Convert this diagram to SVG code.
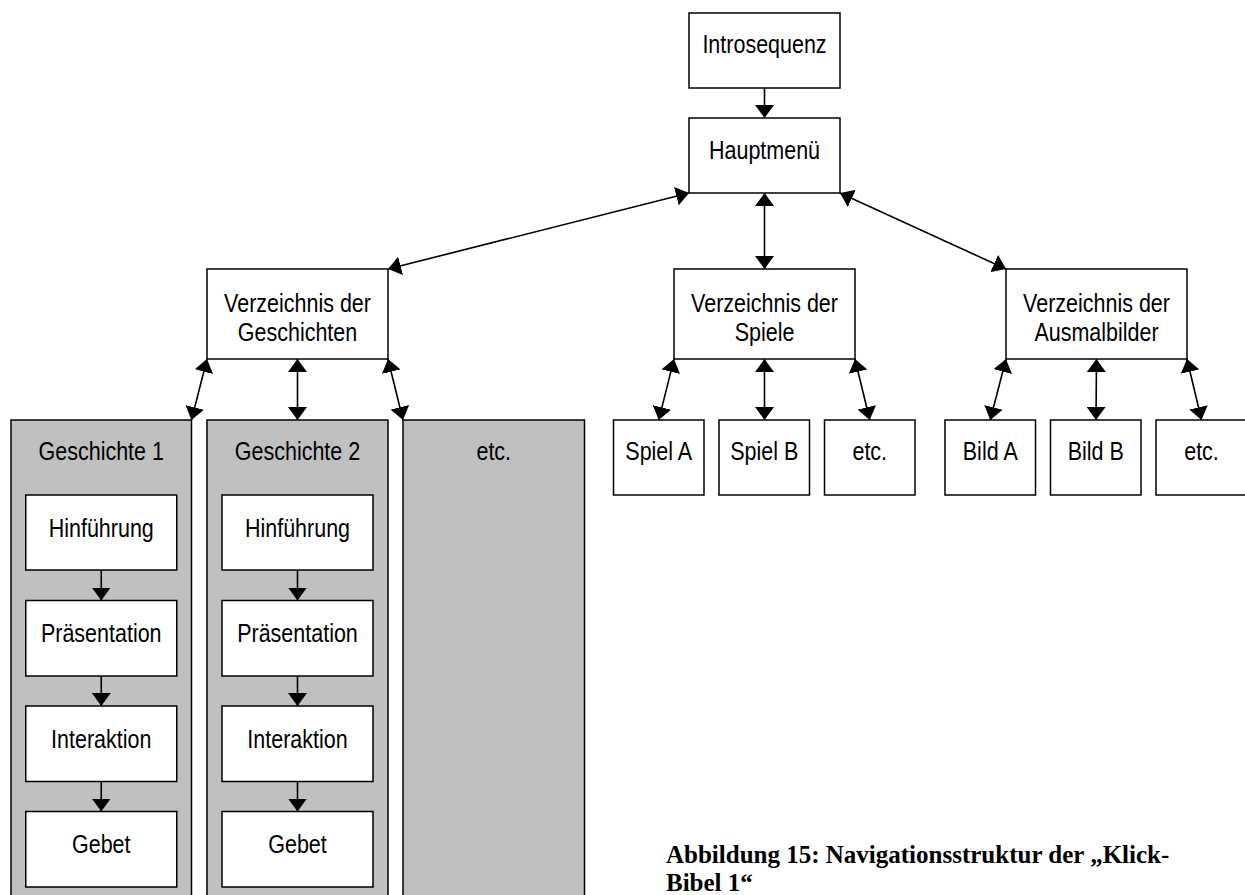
<svg xmlns="http://www.w3.org/2000/svg" width="1245" height="895" viewBox="0 0 1245 895">
<style>
.box{fill:#fff;stroke:#000;stroke-width:1.5}
.col{fill:#c0c0c0;stroke:#000;stroke-width:1.5}
.lbl{font-family:"Liberation Sans",Arial,sans-serif;font-size:25px;fill:#000;text-anchor:middle}
.ln{fill:none;stroke:#000;stroke-width:1.6}
.cap{font-family:"Liberation Serif","Times New Roman",serif;font-size:25px;font-weight:bold;fill:#000}
</style>
<defs>
<marker id="ah" markerUnits="userSpaceOnUse" viewBox="0 0 13 19" markerWidth="13" markerHeight="19" refX="13" refY="9.5" orient="auto-start-reverse">
<path d="M0,0 L13,9.5 L0,19 z" fill="#000"/>
</marker>
</defs>
<rect width="1245" height="895" fill="#fff"/>

<g id="col-g1"><rect class="col" x="11" y="420" width="180.5" height="490"/><text class="lbl" transform="translate(101.25,460) scale(0.86,1)">Geschichte 1</text></g>
<g id="col-g2"><rect class="col" x="207" y="420" width="181" height="490"/><text class="lbl" transform="translate(297.5,460) scale(0.86,1)">Geschichte 2</text></g>
<g id="col-etc"><rect class="col" x="403" y="420" width="181.5" height="490"/><text class="lbl" transform="translate(493.75,460) scale(0.86,1)">etc.</text></g>

<g id="intro"><rect class="box" x="689" y="13" width="151" height="75"/><text class="lbl" transform="translate(764.5,53) scale(0.86,1)">Introsequenz</text></g>
<g id="haupt"><rect class="box" x="689" y="118" width="151" height="75"/><text class="lbl" transform="translate(764.5,159) scale(0.86,1)">Hauptmenü</text></g>

<g id="dir-gesch"><rect class="box" x="207" y="269" width="181" height="90"/><text class="lbl" transform="translate(297.5,311.5) scale(0.86,1)">Verzeichnis der</text><text class="lbl" transform="translate(297.5,340.5) scale(0.86,1)">Geschichten</text></g>
<g id="dir-spiele"><rect class="box" x="674" y="269" width="181" height="90"/><text class="lbl" transform="translate(764.5,311.5) scale(0.86,1)">Verzeichnis der</text><text class="lbl" transform="translate(764.5,340.5) scale(0.86,1)">Spiele</text></g>
<g id="dir-ausmal"><rect class="box" x="1006" y="269" width="181" height="90"/><text class="lbl" transform="translate(1096.5,311.5) scale(0.86,1)">Verzeichnis der</text><text class="lbl" transform="translate(1096.5,340.5) scale(0.86,1)">Ausmalbilder</text></g>

<g id="spiel-a"><rect class="box" x="613.5" y="420" width="90.5" height="75"/><text class="lbl" transform="translate(658.75,460) scale(0.86,1)">Spiel A</text></g>
<g id="spiel-b"><rect class="box" x="719" y="420" width="90.5" height="75"/><text class="lbl" transform="translate(764.25,460) scale(0.86,1)">Spiel B</text></g>
<g id="spiel-etc"><rect class="box" x="824.5" y="420" width="90.5" height="75"/><text class="lbl" transform="translate(869.75,460) scale(0.86,1)">etc.</text></g>
<g id="bild-a"><rect class="box" x="945" y="420" width="90.5" height="75"/><text class="lbl" transform="translate(990.25,460) scale(0.86,1)">Bild A</text></g>
<g id="bild-b"><rect class="box" x="1050.5" y="420" width="90.5" height="75"/><text class="lbl" transform="translate(1095.75,460) scale(0.86,1)">Bild B</text></g>
<g id="bild-etc"><rect class="box" x="1156" y="420" width="92" height="75"/><text class="lbl" transform="translate(1201.5,460) scale(0.86,1)">etc.</text></g>

<g id="g1-hin"><rect class="box" x="25.75" y="495" width="151" height="75"/><text class="lbl" transform="translate(101.25,536.5) scale(0.86,1)">Hinführung</text></g>
<g id="g1-pra"><rect class="box" x="25.75" y="600.5" width="151" height="75.5"/><text class="lbl" transform="translate(101.25,642) scale(0.86,1)">Präsentation</text></g>
<g id="g1-int"><rect class="box" x="25.75" y="706" width="151" height="75.5"/><text class="lbl" transform="translate(101.25,747.5) scale(0.86,1)">Interaktion</text></g>
<g id="g1-geb"><rect class="box" x="25.75" y="811.5" width="151" height="75.5"/><text class="lbl" transform="translate(101.25,852.5) scale(0.86,1)">Gebet</text></g>

<g id="g2-hin"><rect class="box" x="222" y="495" width="151" height="75"/><text class="lbl" transform="translate(297.5,536.5) scale(0.86,1)">Hinführung</text></g>
<g id="g2-pra"><rect class="box" x="222" y="600.5" width="151" height="75.5"/><text class="lbl" transform="translate(297.5,642) scale(0.86,1)">Präsentation</text></g>
<g id="g2-int"><rect class="box" x="222" y="706" width="151" height="75.5"/><text class="lbl" transform="translate(297.5,747.5) scale(0.86,1)">Interaktion</text></g>
<g id="g2-geb"><rect class="box" x="222" y="811.5" width="151" height="75.5"/><text class="lbl" transform="translate(297.5,852.5) scale(0.86,1)">Gebet</text></g>

<g id="connectors">
<line class="ln" x1="764.5" y1="88" x2="764.5" y2="118" marker-end="url(#ah)"/>
<line class="ln" x1="689" y1="193" x2="388" y2="269" marker-start="url(#ah)" marker-end="url(#ah)"/>
<line class="ln" x1="764.5" y1="193" x2="764.5" y2="269" marker-start="url(#ah)" marker-end="url(#ah)"/>
<line class="ln" x1="840" y1="193" x2="1006" y2="269" marker-start="url(#ah)" marker-end="url(#ah)"/>
<line class="ln" x1="207" y1="359" x2="191.5" y2="420" marker-start="url(#ah)" marker-end="url(#ah)"/>
<line class="ln" x1="297.5" y1="359" x2="297.5" y2="420" marker-start="url(#ah)" marker-end="url(#ah)"/>
<line class="ln" x1="388" y1="359" x2="403" y2="420" marker-start="url(#ah)" marker-end="url(#ah)"/>
<line class="ln" x1="674" y1="359" x2="658.75" y2="420" marker-start="url(#ah)" marker-end="url(#ah)"/>
<line class="ln" x1="764.5" y1="359" x2="764.5" y2="420" marker-start="url(#ah)" marker-end="url(#ah)"/>
<line class="ln" x1="855" y1="359" x2="869.75" y2="420" marker-start="url(#ah)" marker-end="url(#ah)"/>
<line class="ln" x1="1006" y1="359" x2="990.25" y2="420" marker-start="url(#ah)" marker-end="url(#ah)"/>
<line class="ln" x1="1096.5" y1="359" x2="1096" y2="420" marker-start="url(#ah)" marker-end="url(#ah)"/>
<line class="ln" x1="1187" y1="359" x2="1201.5" y2="420" marker-start="url(#ah)" marker-end="url(#ah)"/>
<line class="ln" x1="101.25" y1="570" x2="101.25" y2="600.5" marker-end="url(#ah)"/>
<line class="ln" x1="101.25" y1="676" x2="101.25" y2="706" marker-end="url(#ah)"/>
<line class="ln" x1="101.25" y1="781.5" x2="101.25" y2="811.5" marker-end="url(#ah)"/>
<line class="ln" x1="297.5" y1="570" x2="297.5" y2="600.5" marker-end="url(#ah)"/>
<line class="ln" x1="297.5" y1="676" x2="297.5" y2="706" marker-end="url(#ah)"/>
<line class="ln" x1="297.5" y1="781.5" x2="297.5" y2="811.5" marker-end="url(#ah)"/>
</g>

<g id="caption">
<text class="cap" x="666" y="863">Abbildung 15: Navigationsstruktur der „Klick-</text>
<text class="cap" x="666" y="891">Bibel 1“</text>
</g>
</svg>
